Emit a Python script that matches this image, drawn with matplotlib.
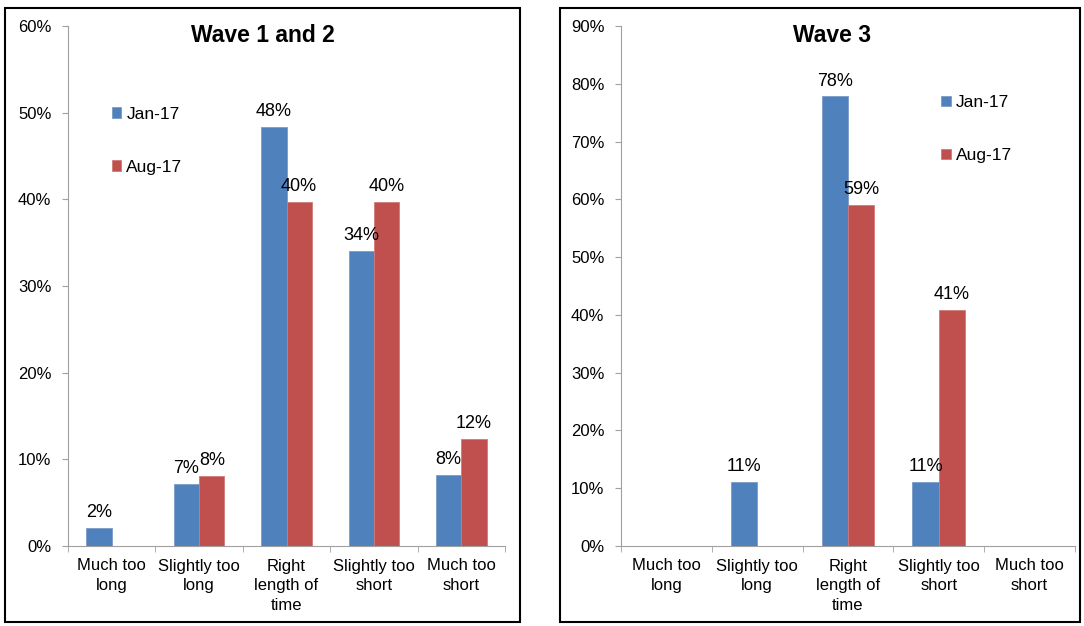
import numpy as np
import matplotlib.pyplot as plt
from matplotlib.patches import Rectangle

plt.rcParams['font.family'] = ['Liberation Sans', 'DejaVu Sans']

categories = ['Much too\nlong', 'Slightly too\nlong', 'Right\nlength of\ntime',
              'Slightly too\nshort', 'Much too\nshort']
series = ['Jan-17', 'Aug-17']
colors = ['#4F81BD', '#C0504D']

# wave 1 and 2 (percent)
w12_jan = [2.1, 7.2, 48.4, 34.0, 8.2]
w12_aug = [0, 8.1, 39.7, 39.7, 12.3]
# wave 3 (percent)
w3_jan = [0, 11.1, 77.8, 11.1, 0]
w3_aug = [0, 0, 59.1, 40.9, 0]

fig = plt.figure(figsize=(10.84, 6.26), dpi=100)

# panel frames
for x0, x1 in [(5, 520), (560, 1080)]:
    fig.patches.append(Rectangle((x0 / 1084, 4 / 626), (x1 - x0) / 1084, 614 / 626,
                                 transform=fig.transFigure, fill=False,
                                 edgecolor='black', linewidth=1.5))


def draw(ax, jan, aug, ymax, leg_pos):
    ind = np.arange(len(categories))
    w = 0.29
    b1 = ax.bar(ind - w / 2, jan, w, color=colors[0], edgecolor='#7A9CC8', linewidth=0.6, label=series[0])
    b2 = ax.bar(ind + w / 2, aug, w, color=colors[1], edgecolor='#D07A78', linewidth=0.6, label=series[1])
    for bars, vals in [(b1, jan), (b2, aug)]:
        for r, v in zip(bars, vals):
            if v > 0:
                ax.annotate('%d%%' % round(v), (r.get_x() + r.get_width() / 2, v),
                            xytext=(0, 5), textcoords='offset points',
                            ha='center', va='bottom', fontsize=13)
    ax.set_xlim(-0.5, len(categories) - 0.5)
    ax.set_ylim(0, ymax)
    ax.set_yticks(np.arange(0, ymax + 1, 10))
    ax.set_yticklabels(['%d%%' % t for t in np.arange(0, ymax + 1, 10)], fontsize=12)
    ax.set_xticks(ind)
    ax.set_xticklabels(categories, fontsize=12, linespacing=1.4)
    ax.set_xticks(np.arange(-0.5, len(categories)), minor=True)
    ax.tick_params(axis='x', which='major', length=0, pad=9)
    ax.tick_params(axis='x', which='minor', length=4, color='#A0A0A0')
    ax.tick_params(axis='y', length=4, color='#A0A0A0', pad=8)
    for s in ['top', 'right']:
        ax.spines[s].set_visible(False)
    for s in ['left', 'bottom']:
        ax.spines[s].set_color('#A0A0A0')
    ax.legend(loc='upper left', bbox_to_anchor=leg_pos, frameon=False, fontsize=12.5,
              handlelength=0.55, handleheight=0.55, handletextpad=0.3,
              labelspacing=2.2, borderpad=0, borderaxespad=0)


ax1 = fig.add_axes([68 / 1084, 80 / 626, 437 / 1084, 520 / 626])
ax2 = fig.add_axes([621 / 1084, 80 / 626, 454 / 1084, 520 / 626])
draw(ax1, w12_jan, w12_aug, 60, (0.1, 0.845))
draw(ax2, w3_jan, w3_aug, 90, (0.705, 0.867))

fig.text(263 / 1084, 1 - 36 / 626, 'Wave 1 and 2', ha='center', va='center',
         fontsize=16.5, fontweight='bold')
fig.text(832 / 1084, 1 - 36 / 626, 'Wave 3', ha='center', va='center',
         fontsize=16.5, fontweight='bold')

fig.savefig('out.png', dpi=100)
